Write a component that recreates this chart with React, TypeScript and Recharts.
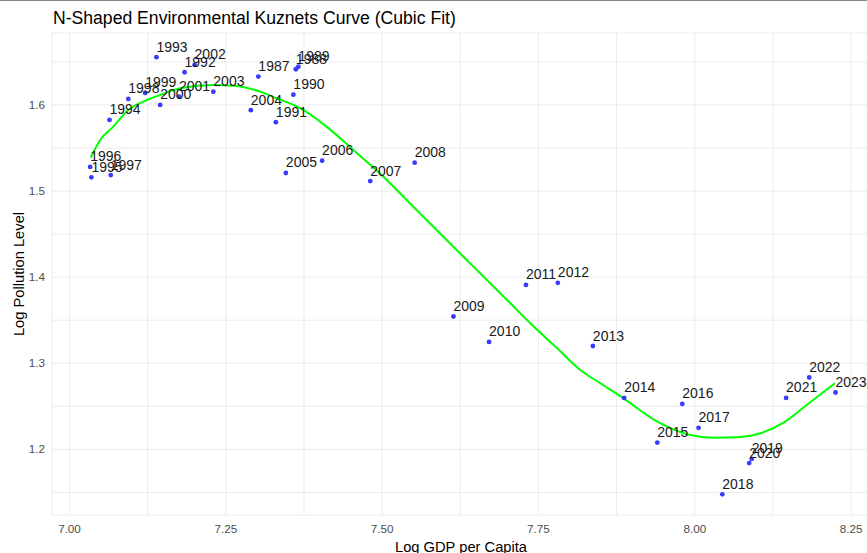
import React from 'react';
import { ComposedChart, XAxis, YAxis, CartesianGrid, Scatter, Line } from 'recharts';

// observed points: year, log GDP per capita, log pollution
const years = [
  1987, 1988, 1989, 1990, 1991, 1992, 1993, 1994, 1995, 1996, 1997, 1998, 1999, 2000, 2001, 2002, 2003,
  2004, 2005, 2006, 2007, 2008, 2009, 2010, 2011, 2012, 2013, 2014, 2015, 2016, 2017, 2018, 2019, 2020,
  2021, 2022, 2023,
];
const logGdp = [
  7.302, 7.362, 7.366, 7.358, 7.330, 7.184, 7.139, 7.064, 7.035, 7.033, 7.066, 7.094, 7.121, 7.145, 7.175, 7.200, 7.230,
  7.290, 7.346, 7.404, 7.481, 7.552, 7.614, 7.671, 7.730, 7.781, 7.837, 7.887, 7.940, 7.980, 8.006, 8.044, 8.091, 8.087,
  8.146, 8.183, 8.225,
];
const logPollution = [
  1.633, 1.6415, 1.6445, 1.612, 1.580, 1.638, 1.6555, 1.5826, 1.516, 1.528, 1.5186, 1.607, 1.614, 1.600, 1.6097, 1.6465, 1.6155,
  1.594, 1.521, 1.5353, 1.5116, 1.533, 1.3543, 1.3248, 1.391, 1.3934, 1.320, 1.2597, 1.2078, 1.2527, 1.225, 1.1477, 1.1888, 1.184,
  1.2597, 1.2834, 1.266,
];

// cubic fit
const fitX = [
  7.034, 7.049, 7.070, 7.094, 7.124, 7.145, 7.177, 7.230, 7.267, 7.305, 7.331, 7.369, 7.411, 7.454, 7.502, 7.555,
  7.619, 7.646, 7.705, 7.737, 7.780, 7.817, 7.849, 7.886, 7.940, 7.993, 8.030, 8.067, 8.105, 8.142, 8.179, 8.224,
];
const fitY = [
  1.5388, 1.5593, 1.5748, 1.5942, 1.6058, 1.6116, 1.6194, 1.6232, 1.6221, 1.6155, 1.6078, 1.5962, 1.5748, 1.5477, 1.5167, 1.478,
  1.4316, 1.4122, 1.3696, 1.3464, 1.3173, 1.2921, 1.2767, 1.2592, 1.2321, 1.2166, 1.2135, 1.214, 1.2186, 1.2309, 1.2515, 1.2767,
];

const xTicks = [7, 7.125, 7.25, 7.375, 7.5, 7.625, 7.75, 7.875, 8, 8.125, 8.25];
const yTicks = [1.15, 1.2, 1.25, 1.3, 1.35, 1.4, 1.45, 1.5, 1.55, 1.6, 1.65];
const xMajor = [7, 7.25, 7.5, 7.75, 8, 8.25];
const yMajor = [1.2, 1.3, 1.4, 1.5, 1.6];

const points = years.map((year, i) => ({ year, x: logGdp[i], y: logPollution[i] }));
const fit = fitX.map((x, i) => ({ x, y: fitY[i] }));

const FONT = '"Liberation Sans", Arial, sans-serif';

const Dot = (p: any) => <circle cx={p.cx} cy={p.cy} r={2.4} fill="#3a3aff" />;
const YearLabel = (p: any) => (
  <text x={p.cx} y={p.cy - 5.5} fontSize={14} fontFamily={FONT} fill="#1a1a1a">
    {p.payload.year}
  </text>
);

export default function App() {
  return (
    <div style={{ position: 'absolute', left: 0, top: 0, width: 867, height: 553, overflow: 'hidden', background: '#fff', fontFamily: FONT }}>
      <div style={{ position: 'absolute', left: 0, top: 0, width: 867, height: 1, background: '#8a8a8a' }} />
      <div style={{ position: 'absolute', left: 53, top: 7, fontSize: 17.6, lineHeight: '22px', color: '#000', whiteSpace: 'nowrap' }}>
        N-Shaped Environmental Kuznets Curve (Cubic Fit)
      </div>
      <div style={{ position: 'absolute', left: 0, top: 537, width: 922, textAlign: 'center', fontSize: 14.7, lineHeight: '20px', color: '#000' }}>
        Log GDP per Capita
      </div>
      <div style={{ position: 'absolute', left: 19, top: 274, transform: 'translate(-50%, -50%) rotate(-90deg)', fontSize: 14.7, lineHeight: '20px', color: '#000', whiteSpace: 'nowrap' }}>
        Log Pollution Level
      </div>
      <ComposedChart width={873} height={553} margin={{ top: 33, right: 0, bottom: 0, left: 0 }}>
        <CartesianGrid stroke="#ebebeb" strokeWidth={1} />
        <XAxis
          type="number"
          dataKey="x"
          domain={[6.972, 8.285]}
          allowDataOverflow
          ticks={xTicks}
          interval={0}
          tickFormatter={(v: number) => (xMajor.includes(v) ? v.toFixed(2) : '')}
          axisLine={false}
          tickLine={false}
          tickSize={0}
          tickMargin={10}
          height={38}
          tick={{ fill: '#4d4d4d', fontSize: 11.7, fontFamily: FONT }}
        />
        <YAxis
          type="number"
          dataKey="y"
          domain={[1.1237, 1.6836]}
          allowDataOverflow
          ticks={yTicks}
          interval={0}
          tickFormatter={(v: number) => (yMajor.includes(v) ? v.toFixed(1) : '')}
          axisLine={false}
          tickLine={false}
          tickSize={0}
          tickMargin={7}
          width={52}
          tick={{ fill: '#4d4d4d', fontSize: 11.7, fontFamily: FONT }}
        />
        <Scatter data={points} dataKey="y" shape={Dot} isAnimationActive={false} />
        <Line data={fit} dataKey="y" type="monotone" stroke="#00ff00" strokeWidth={2} dot={false} activeDot={false} isAnimationActive={false} />
        <Scatter data={points} dataKey="y" shape={YearLabel} isAnimationActive={false} />
      </ComposedChart>
    </div>
  );
}
